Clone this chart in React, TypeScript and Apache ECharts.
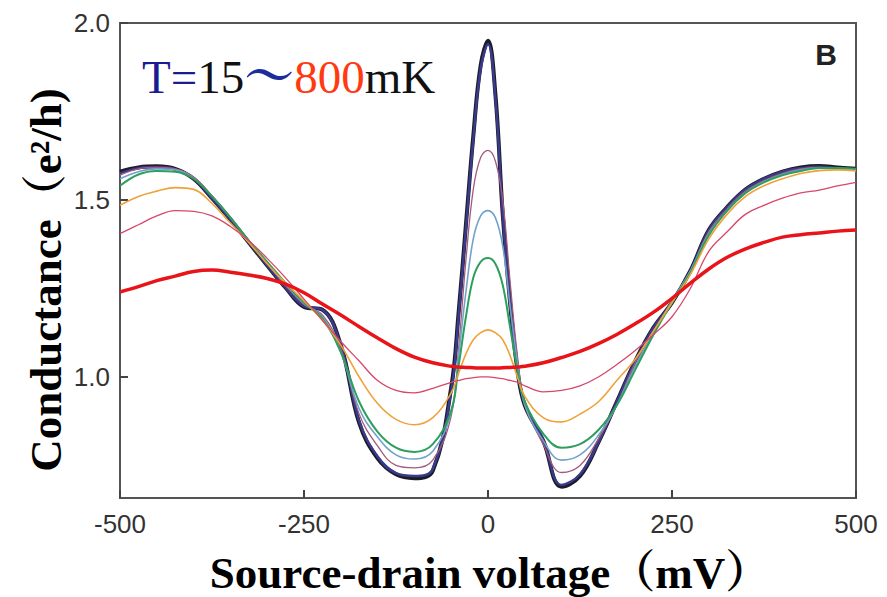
import React, { useEffect, useRef } from "react";
import * as echarts from "echarts";

const voltage = [-500, -475, -450, -425, -400, -375, -350, -325, -300, -275, -250, -225, -200, -175, -150, -125, -100, -75, -50, -40, -30, -20, -10, 0, 10, 20, 30, 40, 50, 75, 100, 125, 150, 175, 200, 225, 250, 275, 300, 325, 350, 375, 400, 425, 450, 475, 500];

const gBlack = [1.58, 1.592, 1.595, 1.588, 1.56, 1.505, 1.445, 1.38, 1.315, 1.252, 1.198, 1.19, 1.09, 0.87, 0.77, 0.725, 0.714, 0.735, 0.97, 1.18, 1.43, 1.68, 1.88, 1.95, 1.8, 1.46, 1.21, 1.02, 0.92, 0.82, 0.69, 0.72, 0.815, 0.93, 1.045, 1.14, 1.21, 1.3, 1.415, 1.48, 1.53, 1.56, 1.58, 1.592, 1.596, 1.592, 1.588];
const gNavy = [1.575, 1.59, 1.593, 1.587, 1.56, 1.505, 1.445, 1.38, 1.315, 1.252, 1.2, 1.19, 1.09, 0.875, 0.775, 0.728, 0.72, 0.74, 0.96, 1.17, 1.42, 1.67, 1.87, 1.94, 1.79, 1.46, 1.21, 1.02, 0.925, 0.822, 0.695, 0.725, 0.815, 0.93, 1.045, 1.14, 1.21, 1.3, 1.415, 1.48, 1.53, 1.56, 1.58, 1.59, 1.594, 1.59, 1.586];
const gMauve = [1.57, 1.588, 1.592, 1.588, 1.565, 1.512, 1.452, 1.385, 1.32, 1.258, 1.205, 1.175, 1.08, 0.895, 0.805, 0.75, 0.743, 0.765, 0.89, 1.08, 1.33, 1.53, 1.62, 1.64, 1.61, 1.5, 1.27, 1.06, 0.925, 0.81, 0.73, 0.75, 0.825, 0.92, 1.04, 1.13, 1.215, 1.3, 1.41, 1.475, 1.525, 1.555, 1.575, 1.588, 1.592, 1.59, 1.585];
const gBlue = [1.56, 1.58, 1.588, 1.585, 1.562, 1.51, 1.45, 1.385, 1.322, 1.262, 1.208, 1.17, 1.07, 0.91, 0.83, 0.78, 0.768, 0.79, 0.9, 1.06, 1.24, 1.39, 1.455, 1.47, 1.45, 1.37, 1.2, 1.04, 0.92, 0.82, 0.765, 0.78, 0.835, 0.92, 1.03, 1.125, 1.215, 1.3, 1.405, 1.47, 1.52, 1.552, 1.572, 1.585, 1.59, 1.588, 1.585];
const gGreen = [1.54, 1.572, 1.582, 1.58, 1.56, 1.51, 1.45, 1.385, 1.325, 1.265, 1.21, 1.165, 1.07, 0.93, 0.845, 0.8, 0.788, 0.81, 0.905, 1.03, 1.17, 1.28, 1.325, 1.336, 1.32, 1.26, 1.14, 1.02, 0.93, 0.84, 0.8, 0.81, 0.85, 0.92, 1.02, 1.12, 1.21, 1.295, 1.4, 1.47, 1.52, 1.55, 1.57, 1.582, 1.59, 1.59, 1.588];
const gOrange = [1.485, 1.51, 1.525, 1.535, 1.53, 1.49, 1.435, 1.38, 1.32, 1.265, 1.215, 1.16, 1.09, 1.0, 0.925, 0.88, 0.865, 0.885, 0.955, 1.01, 1.065, 1.105, 1.125, 1.133, 1.125, 1.105, 1.06, 1.0, 0.945, 0.885, 0.873, 0.895, 0.93, 0.99, 1.05, 1.13, 1.21, 1.29, 1.39, 1.46, 1.51, 1.54, 1.56, 1.575, 1.583, 1.585, 1.582];
const gPink = [1.405, 1.43, 1.455, 1.47, 1.468, 1.455, 1.425, 1.385, 1.335, 1.28, 1.22, 1.16, 1.1, 1.045, 0.99, 0.962, 0.955, 0.968, 0.985, 0.99, 0.995, 0.998, 1.0, 1.0, 0.998, 0.995, 0.99, 0.985, 0.975, 0.958, 0.962, 0.975, 1.0, 1.035, 1.075, 1.12, 1.17, 1.25, 1.355, 1.41, 1.46, 1.485, 1.505, 1.52, 1.528, 1.54, 1.55];
const gRed = [1.24, 1.255, 1.272, 1.285, 1.298, 1.302, 1.296, 1.288, 1.278, 1.262, 1.238, 1.206, 1.175, 1.142, 1.11, 1.08, 1.056, 1.04, 1.03, 1.028, 1.027, 1.026, 1.025, 1.025, 1.025, 1.026, 1.027, 1.028, 1.03, 1.04, 1.055, 1.072, 1.094, 1.12, 1.15, 1.183, 1.222, 1.265, 1.305, 1.338, 1.362, 1.38, 1.395, 1.402, 1.407, 1.412, 1.415];

const yTickValues = [1.0, 1.5, 2.0];

const curves = [
  { name: "15 mK", data: gBlack, color: "#1c1c26", width: 4 },
  { name: "T2", data: gNavy, color: "#3a3a8c", width: 2.5 },
  { name: "T3", data: gMauve, color: "#a35a7c", width: 1.3 },
  { name: "T4", data: gBlue, color: "#72a2ca", width: 1.6 },
  { name: "T5", data: gGreen, color: "#2e9e5e", width: 2 },
  { name: "T6", data: gOrange, color: "#f0a23a", width: 1.6 },
  { name: "T7", data: gPink, color: "#d8476a", width: 1.3 },
  { name: "800 mK", data: gRed, color: "#e8141a", width: 3.5 },
];

export default function App() {
  const ref = useRef<HTMLDivElement>(null);
  useEffect(() => {
    if (!ref.current) return;
    const chart = echarts.init(ref.current, null, { renderer: "svg" });
    const serif = "'Liberation Serif', 'Times New Roman', 'Noto Serif CJK SC', 'Noto Sans CJK SC', serif";
    chart.setOption({
      animation: false,
      grid: {
        left: 120,
        right: 31,
        top: 23,
        bottom: 99,
        show: true,
        borderColor: "#555",
        borderWidth: 2,
        backgroundColor: "transparent",
      },
      xAxis: {
        type: "value",
        min: -500,
        max: 500,
        interval: 250,
        axisLine: { show: true, onZero: false, lineStyle: { color: "#555", width: 2 } },
        axisTick: { show: true, inside: true, length: 8, lineStyle: { color: "#444", width: 2 } },
        axisLabel: {
          color: "#333",
          fontSize: 26,
          fontFamily: "'Liberation Sans', Arial, sans-serif",
          margin: 13,
        },
        splitLine: { show: false },
      },
      yAxis: {
        type: "value",
        min: 0.658,
        max: 2.0,
        axisLine: { show: true, onZero: false, lineStyle: { color: "#555", width: 2 } },
        axisTick: {
          show: true,
          inside: true,
          length: 8,
          customValues: yTickValues,
          lineStyle: { color: "#444", width: 2 },
        },
        axisLabel: {
          color: "#333",
          fontSize: 26,
          fontFamily: "'Liberation Sans', Arial, sans-serif",
          margin: 10,
          customValues: yTickValues,
          formatter: (v: number) => v.toFixed(1),
        },
        splitLine: { show: false },
      },
      series: curves.map((c) => ({
        name: c.name,
        type: "line",
        data: voltage.map((v, i) => [v, c.data[i]]),
        smooth: 0.4,
        showSymbol: false,
        symbol: "none",
        lineStyle: { color: c.color, width: c.width },
        itemStyle: { color: c.color },
        z: 2,
      })),
      graphic: [
        {
          type: "text",
          x: 142,
          y: 77,
          style: {
            text: "{a|T=}{b|15}{c|～}{d|800}{b|mK}",
            textVerticalAlign: "middle",
            textAlign: "left",
            rich: {
              a: { fontSize: 47, fontFamily: serif, fill: "#1c1c92" },
              b: { fontSize: 47, fontFamily: serif, fill: "#111" },
              c: { fontSize: 50, fontFamily: serif, fill: "#1c2c9c", fontWeight: "bold" },
              d: { fontSize: 47, fontFamily: serif, fill: "#ff3a10" },
            },
          },
        },
        {
          type: "text",
          x: 826,
          y: 54,
          style: {
            text: "B",
            fontSize: 30,
            fontWeight: "bold",
            fontFamily: "'Liberation Sans', Arial, sans-serif",
            fill: "#222",
            textAlign: "center",
            textVerticalAlign: "middle",
          },
        },
        {
          type: "text",
          x: 490,
          y: 573,
          style: {
            text: "Source-drain voltage（mV）",
            fontSize: 45,
            fontWeight: "bold",
            fontFamily: serif,
            fill: "#000",
            textAlign: "center",
            textVerticalAlign: "middle",
          },
        },
        {
          type: "text",
          x: 46,
          y: 280,
          rotation: Math.PI / 2,
          style: {
            text: "Conductance（e²/h)",
            fontSize: 45,
            fontWeight: "bold",
            fontFamily: serif,
            fill: "#000",
            textAlign: "center",
            textVerticalAlign: "middle",
          },
        },
      ],
    });
    return () => chart.dispose();
  }, []);
  return <div ref={ref} style={{ width: 887, height: 597, position: "absolute", left: 0, top: 0 }} />;
}
